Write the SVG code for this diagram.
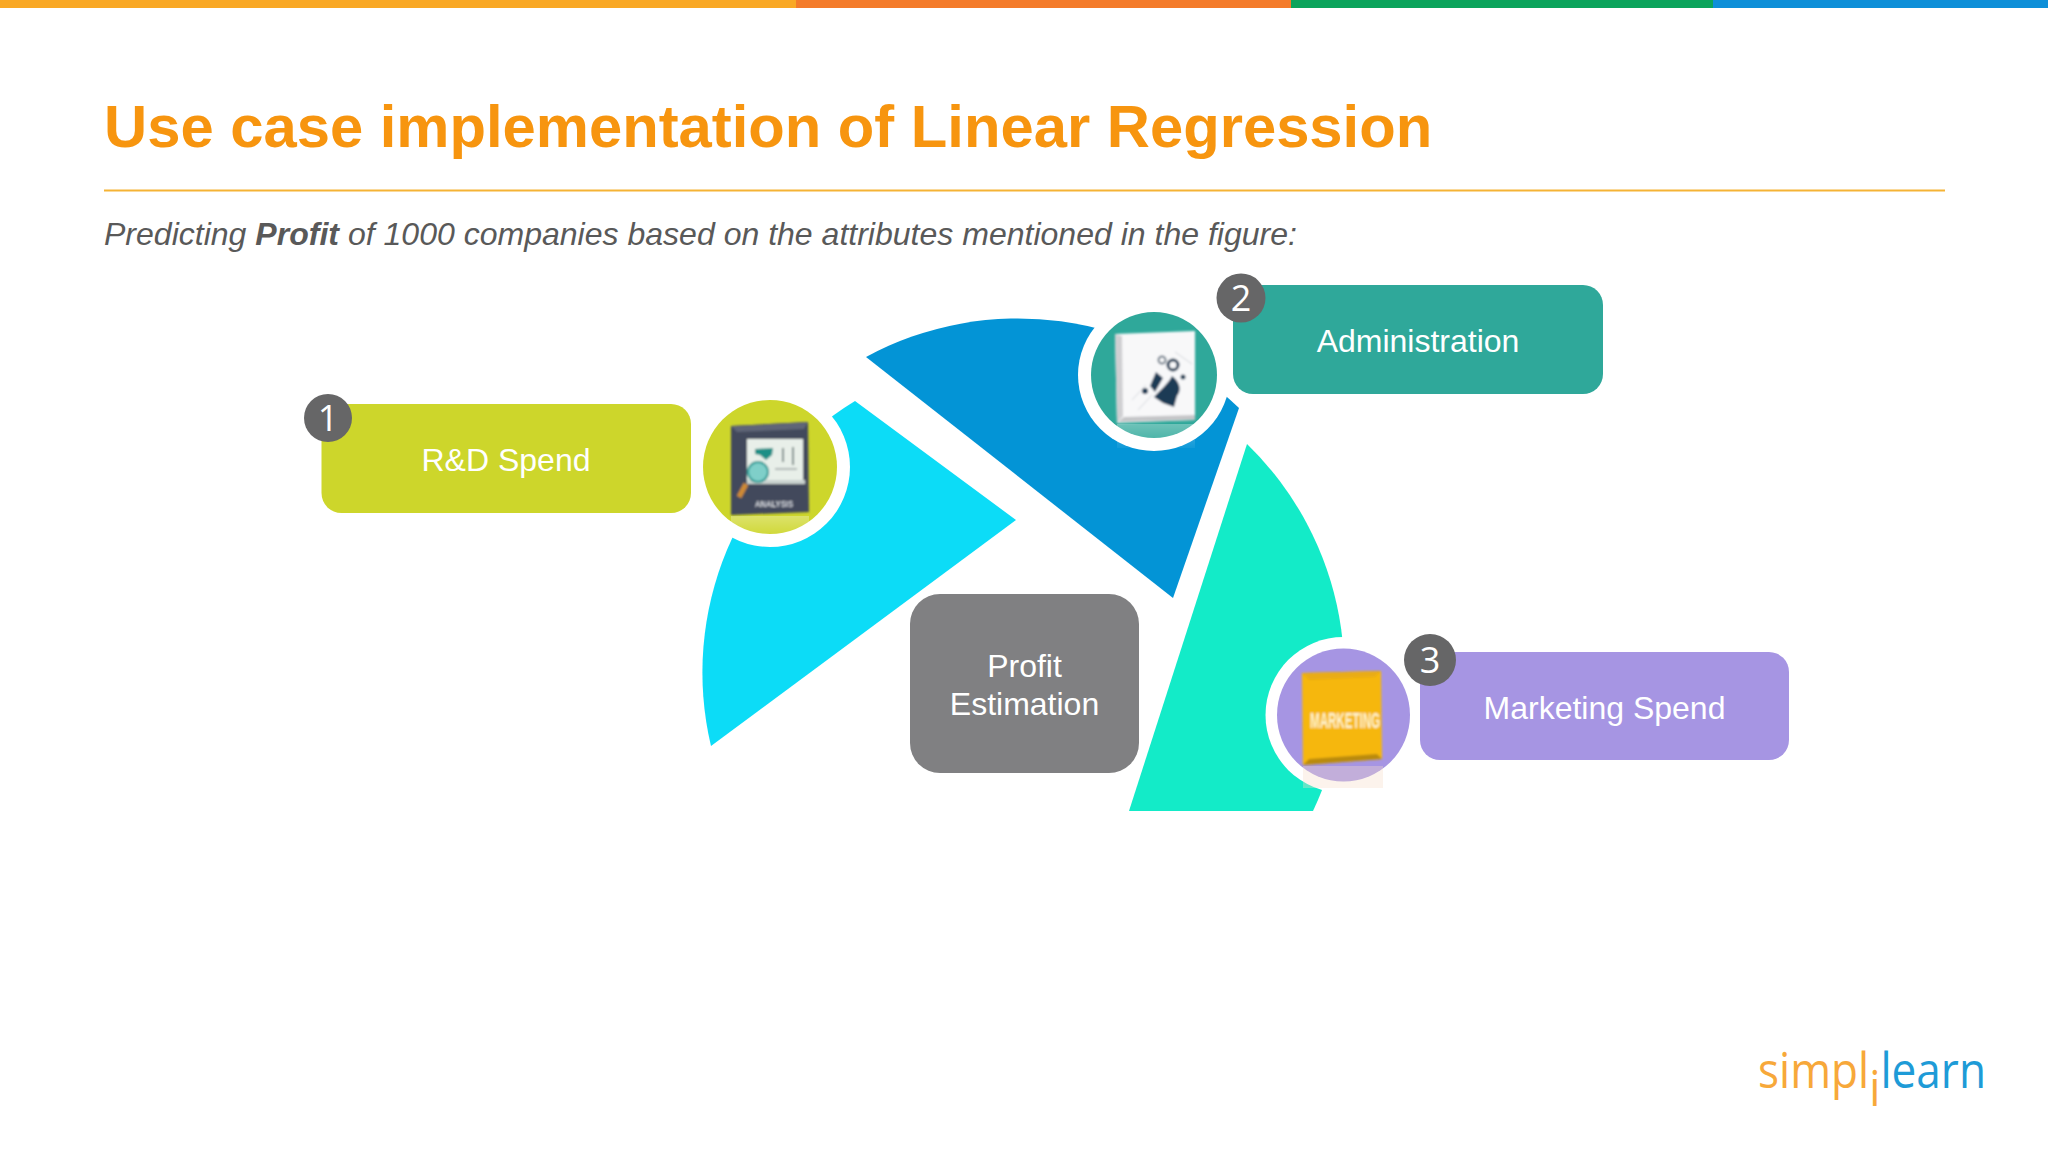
<svg xmlns="http://www.w3.org/2000/svg" width="2048" height="1152" viewBox="0 0 2048 1152">
<defs>
<style>
text{font-family:"Liberation Sans",Arial,sans-serif}
.lbl{font-size:32px;fill:#fff;text-anchor:middle}
.num{font-size:36px;fill:#fff;text-anchor:middle;font-family:"Open Sans","Liberation Sans",sans-serif}
.badge{fill:#666667}
.ring{fill:#fff}
</style>
<filter id="soft" x="-10%" y="-10%" width="120%" height="120%"><feGaussianBlur stdDeviation="0.9"/></filter>
<linearGradient id="refl" x1="0" y1="0" x2="0" y2="1"><stop offset="0" stop-color="#fff" stop-opacity=".3"/><stop offset="1" stop-color="#fff" stop-opacity=".05"/></linearGradient>
</defs>
<rect width="2048" height="1152" fill="#fff"/>
<g id="top-bar">
<rect x="0" y="0" width="796" height="8" fill="#F9A825"/>
<rect x="796" y="0" width="495" height="8" fill="#F47B2A"/>
<rect x="1291" y="0" width="422" height="8" fill="#0BA45C"/>
<rect x="1713" y="0" width="335" height="8" fill="#0E8FD8"/>
</g>
<text id="title" x="104" y="147" font-size="59.760" font-weight="700" fill="#F7950F">Use case implementation of Linear Regression</text>
<line x1="104" y1="190.500" x2="1945" y2="190.500" stroke="#F5B335" stroke-width="2"/>
<text id="subtitle" x="104" y="245" font-size="32.040" font-style="italic" fill="#595959">Predicting <tspan font-weight="700">Profit</tspan> of 1000 companies based on the attributes mentioned in the figure:</text>

<g id="sectors">
<path d="M855,401 L1016,520 L711,746 A318,318 0 0 1 855,401 Z" fill="#0CDCF7"/>
<path d="M866,357 A318,318 0 0 1 1239,408 L1173,598 Z" fill="#0394D6"/>
<path d="M1247,444 A319,319 0 0 1 1313,811 L1129,811 Z" fill="#13EBC8"/>
</g>

<g id="node-rd">
<circle class="ring" cx="770" cy="467" r="80"/>
<rect x="321.500" y="404" width="369.500" height="109" rx="20" fill="#CDD62B"/>
<circle cx="770" cy="467" r="67" fill="#CDD62B"/>
<g filter="url(#soft)">
<path d="M731,426 L808,422 L809,512 L731,515 Z" fill="#434A5C"/>
<path d="M731,426 L808,422 L804,429 L737,432 Z" fill="#5E6577"/>
<rect x="747" y="439" width="56" height="44" fill="#E8EFE9"/>
<rect x="747" y="480" width="58" height="4" fill="#C9D2CF"/>
<path d="M755,449 L773,448 L772,455 L766,460 L760,455 L755,454 Z" fill="#1F8F86"/>
<rect x="782" y="448" width="2" height="14" fill="#7A8A88"/>
<rect x="792" y="447" width="2" height="18" fill="#7A8A88"/>
<rect x="775" y="468" width="22" height="2" fill="#B0B8B5"/>
<circle cx="758" cy="472" r="10" fill="#7FCFC9" stroke="#2E9A94" stroke-width="2"/>
<path d="M746,484 L739,497" stroke="#CF8A35" stroke-width="5" fill="none"/>
<text x="774" y="507" font-size="9" font-weight="700" fill="#D9DCE2" text-anchor="middle" textLength="38" lengthAdjust="spacingAndGlyphs">ANALYSIS</text>
</g>
<rect x="731" y="516" width="78" height="20" fill="url(#refl)"/>
<circle class="badge" cx="328" cy="418" r="24"/>
<text class="num" x="328" y="431">1</text>
<text class="lbl" x="506" y="471">R&amp;D Spend</text>
</g>

<g id="node-admin">
<circle class="ring" cx="1154" cy="375" r="76"/>
<rect x="1233" y="285" width="370" height="109" rx="20" fill="#2FA89A"/>
<circle cx="1154" cy="375" r="63" fill="#2FA89A"/>
<g filter="url(#soft)">
<path d="M1115,334 L1195,331 L1195,420 L1117,423 Z" fill="#F8F8F9"/>
<path d="M1115,334 L1122,336 L1123,416 L1117,423 Z" fill="#CFCFD2"/>
<path d="M1118,422 L1195,420 L1195,415 L1124,417 Z" fill="#C4C5C7"/>
<path d="M1172,376 C1180,382 1182,390 1177,396 L1174,407 L1163,403 L1154,397 C1160,390 1168,384 1172,376 Z" fill="#1F3A55"/>
<path d="M1156,372 L1163,378 L1155,392 L1150,386 Z" fill="#1F3A55"/>
<circle cx="1173" cy="365" r="5" fill="none" stroke="#1F3A55" stroke-width="3"/>
<circle cx="1162" cy="360" r="3.500" fill="none" stroke="#6E7B88" stroke-width="2"/>
<circle cx="1145" cy="391" r="3" fill="#1F3A55"/>
<circle cx="1183" cy="377" r="2.500" fill="#1F3A55"/>
<path d="M1132,400 L1146,385 M1138,410 L1152,395 M1175,352 L1192,364" stroke="#D5D8DC" stroke-width="1" fill="none"/>
</g>
<rect x="1117" y="424" width="78" height="24" fill="url(#refl)"/>
<circle class="badge" cx="1241" cy="298" r="24.500"/>
<text class="num" x="1241" y="311">2</text>
<text class="lbl" x="1418" y="352">Administration</text>
</g>

<g id="node-marketing">
<circle class="ring" cx="1343.500" cy="715" r="78"/>
<rect x="1420" y="652" width="369" height="108" rx="20" fill="#A695E3"/>
<circle cx="1343.500" cy="715" r="66.500" fill="#A695E3"/>
<g filter="url(#soft)">
<path d="M1302,673 L1381,671 L1382,759 L1303,765 Z" fill="#F6B70F"/>
<path d="M1302,673 L1381,671 L1375,677 L1309,680 Z" fill="#E9AC12"/>
<path d="M1303,765 L1382,759 L1377,754 L1309,759 Z" fill="#B98A0C"/>
<text x="1345" y="728" font-size="22" font-weight="700" fill="#FFF4D0" text-anchor="middle" textLength="70" lengthAdjust="spacingAndGlyphs">MARKETING</text>
</g>
<rect x="1303" y="766" width="80" height="22" fill="#F7DDC8" opacity=".35"/>
<circle class="badge" cx="1430" cy="660" r="26"/>
<text class="num" x="1430" y="673">3</text>
<text class="lbl" x="1604.500" y="719">Marketing Spend</text>
</g>

<g id="node-profit">
<rect x="910" y="594" width="229" height="179" rx="30" fill="#808082"/>
<text class="lbl" x="1024.500" y="677">Profit</text>
<text class="lbl" x="1024.500" y="715">Estimation</text>
</g>

<text id="logo" x="1758" y="1088" font-size="50" font-weight="400" style="font-family:'Open Sans',sans-serif" fill="#F7A83A" textLength="228" lengthAdjust="spacingAndGlyphs">simpl<tspan dy="18">i</tspan><tspan dy="-18" fill="#1E9BD7">learn</tspan></text>
</svg>
